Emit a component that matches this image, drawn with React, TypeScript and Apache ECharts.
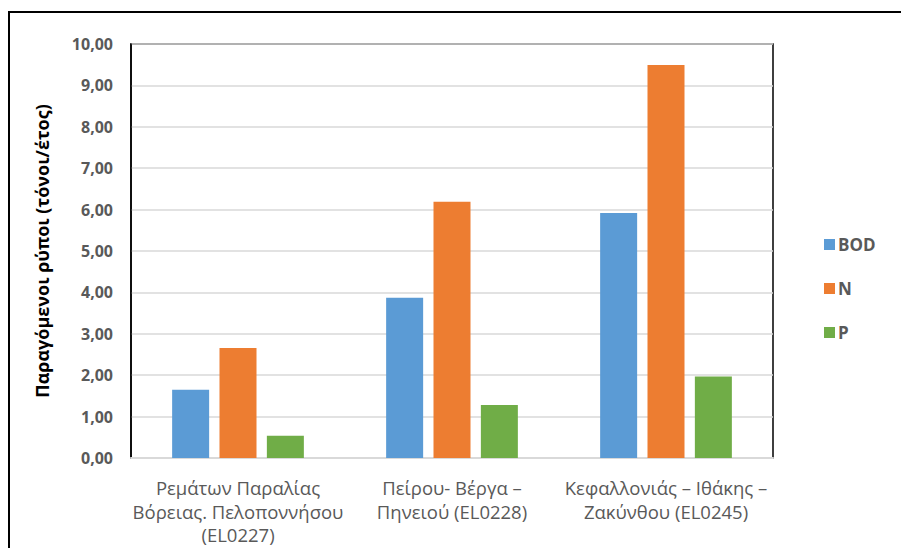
import React, { useEffect, useRef } from "react";
import * as echarts from "echarts";

const categories = [
  "Ρεμάτων Παραλίας\nΒόρειας. Πελοποννήσου\n(EL0227)",
  "Πείρου- Βέργα –\nΠηνειού (EL0228)",
  "Κεφαλλονιάς – Ιθάκης –\nΖακύνθου (EL0245)",
];
const seriesNames = ["BOD", "N", "P"];
const bodValues = [1.65, 3.87, 5.92];
const nValues = [2.66, 6.19, 9.49];
const pValues = [0.54, 1.28, 1.97];
const colors = ["#5b9bd5", "#ed7d31", "#70ad47"];
const yTitle = "Παραγόμενοι ρύποι (τόνοι/έτος)";

export default function App() {
  const ref = useRef<HTMLDivElement>(null);
  useEffect(() => {
    if (!ref.current) return;
    const chart = echarts.init(ref.current, null, { renderer: "svg" });
    const font = "'Open Sans', sans-serif";
    const values = [bodValues, nValues, pValues];
    chart.setOption({
      animation: false,
      backgroundColor: "#ffffff",
      grid: {
        left: 131,
        top: 44,
        right: 128,
        bottom: 90,
        show: true,
        borderColor: "#000000",
        borderWidth: 1.5,
      },
      legend: {
        orient: "vertical",
        left: 819,
        top: 231,
        itemWidth: 11,
        itemHeight: 11,
        itemGap: 27,
        icon: "rect",
        textStyle: {
          fontFamily: font,
          fontWeight: "bold",
          fontSize: 17,
          lineHeight: 16,
          color: "#595959",
          padding: [0, 0, 0, -2],
        },
        data: seriesNames,
      },
      xAxis: {
        type: "category",
        data: categories,
        axisLine: { show: true, lineStyle: { color: "#d9d9d9", width: 2 } },
        axisTick: { show: false },
        axisLabel: {
          fontFamily: font,
          fontSize: 18.5,
          lineHeight: 23.5,
          color: "#595959",
          margin: 18,
          interval: 0,
        },
      },
      yAxis: {
        type: "value",
        min: 0,
        max: 10,
        interval: 1,
        name: yTitle,
        nameLocation: "middle",
        nameGap: 80,
        nameTextStyle: {
          fontFamily: font,
          fontWeight: "bold",
          fontSize: 18,
          color: "#000000",
        },
        axisLine: { show: true, lineStyle: { color: "#000000", width: 1.5 } },
        axisTick: { show: false },
        axisLabel: {
          fontFamily: font,
          fontWeight: "bold",
          fontSize: 16,
          color: "#595959",
          margin: 18,
          formatter: (v: number) => v.toFixed(2).replace(".", ","),
        },
        splitLine: { lineStyle: { color: "#d9d9d9", width: 1.5 } },
      },
      graphic: [
        {
          type: "rect",
          shape: { x: 9, y: 12, width: 1000, height: 1000 },
          style: { fill: "none", stroke: "#000000", lineWidth: 2 },
          silent: true,
        },
      ],
      series: seriesNames.map((name, i) => ({
        name,
        type: "bar",
        data: values[i],
        barWidth: 37,
        barGap: "28%",
        itemStyle: { color: colors[i] },
      })),
    });
    return () => chart.dispose();
  }, []);
  return (
    <div
      ref={ref}
      style={{ position: "absolute", left: 0, top: 0, width: 901, height: 548 }}
    />
  );
}
